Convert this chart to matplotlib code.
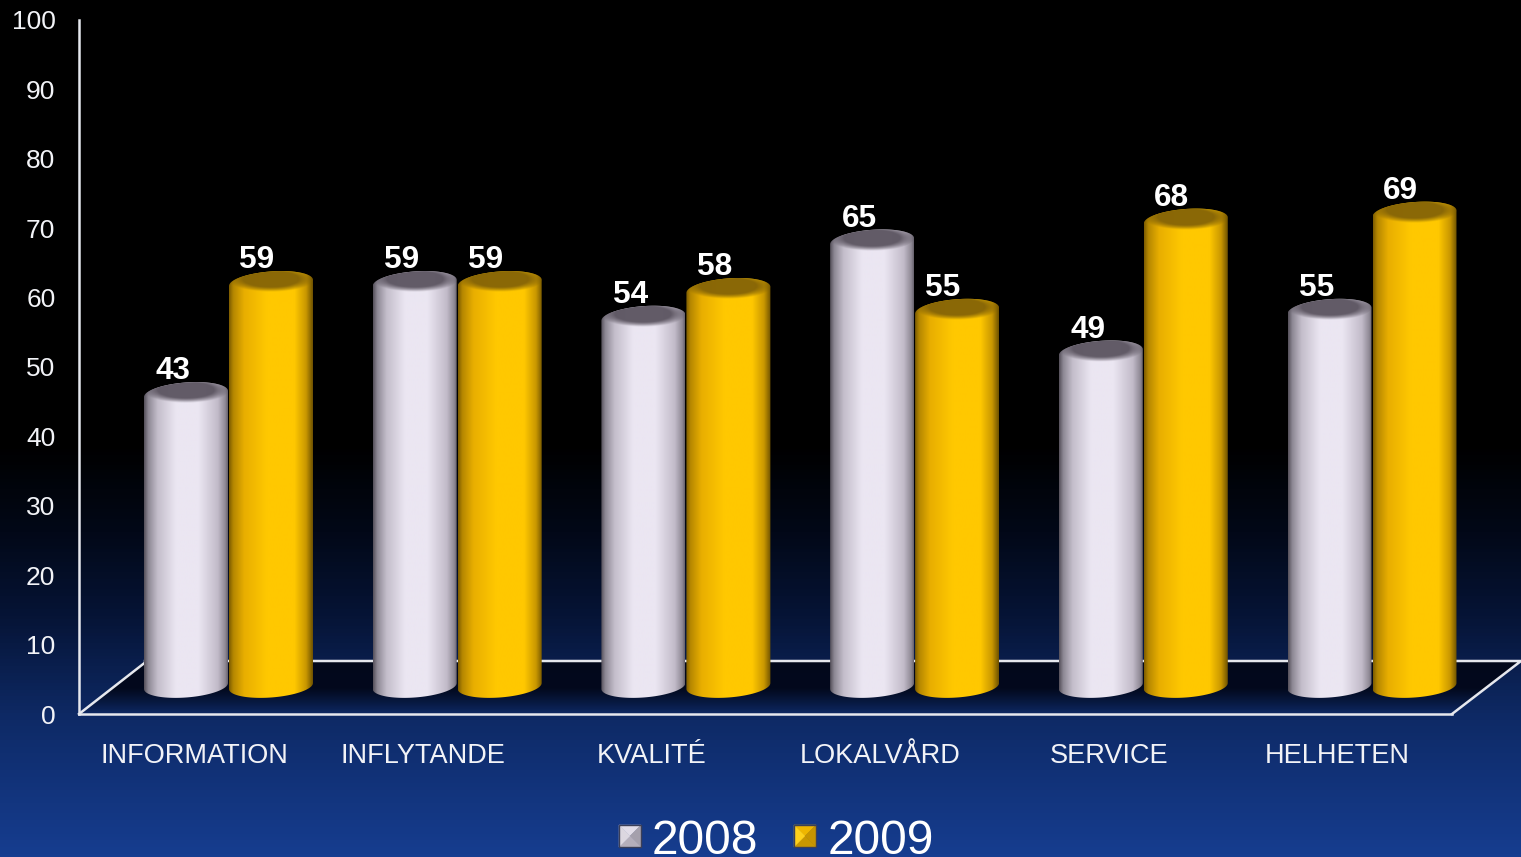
import numpy as np
import matplotlib
matplotlib.use('Agg')
import matplotlib.pyplot as plt
from matplotlib.colors import LinearSegmentedColormap
from matplotlib.patches import Polygon

plt.rcParams['font.family'] = ['Liberation Sans', 'DejaVu Sans']

categories = ['INFORMATION', 'INFLYTANDE', 'KVALITÉ', 'LOKALVÅRD', 'SERVICE', 'HELHETEN']
values_2008 = [43, 59, 54, 65, 49, 55]
values_2009 = [59, 59, 58, 55, 68, 69]
y_ticks = [0, 10, 20, 30, 40, 50, 60, 70, 80, 90, 100]

# picture geometry, in pixels
W, H = 1521, 857
GROUP_PX = 228.7
X0_PX = 194
Y0_PX = 714
UNIT_PX = 6.94


def xd(px):
    return (px - X0_PX) / GROUP_PX


def yd(px):
    return (Y0_PX - px) / UNIT_PX


WHITE_CM = LinearSegmentedColormap.from_list('white_bar', [
    (0.0, '#55505a'), (0.05, '#8d8894'), (0.16, '#c3bdca'), (0.38, '#ebe6f2'),
    (0.65, '#ebe6f2'), (0.88, '#c2bbc9'), (0.97, '#8f8995'), (1.0, '#67626d')])
GOLD_CM = LinearSegmentedColormap.from_list('gold_bar', [
    (0.0, '#7d5c00'), (0.05, '#b58700'), (0.18, '#e8ae00'), (0.45, '#ffc800'),
    (0.78, '#ffc800'), (0.92, '#c99700'), (1.0, '#6e5200')])
BG_CM = LinearSegmentedColormap.from_list('bg', [
    (0.0, '#000000'), (0.52, '#000000'), (0.62, '#020817'), (0.72, '#061436'),
    (0.84, '#0e2a66'), (1.0, '#163d90')])

fig = plt.figure(figsize=(W / 100, H / 100), dpi=100)
ax = fig.add_axes([0, 0, 1, 1])
xlim = (xd(0), xd(W))
ylim = (yd(H), yd(0))

# background, black at the top
ax.imshow(np.linspace(0, 1, 256).reshape(-1, 1), cmap=BG_CM, aspect='auto', vmin=0, vmax=1,
          extent=(*xlim, *ylim), zorder=0)

# floor of the 3d box
floor = Polygon([(xd(79), 0), (xd(145), yd(661)), (xd(1521), yd(661)), (xd(1452), 0)],
                closed=True, fc='none', ec='none', zorder=1)
ax.add_patch(floor)
shade = np.zeros((64, 1, 4))
shade[:, 0, 0:3] = (0.01, 0.03, 0.1)
shade[:, 0, 3] = np.r_[np.full(32, 0.95), np.linspace(0.95, 0.0, 32)]
im = ax.imshow(shade, aspect='auto', extent=(xlim[0], xlim[1], 0, yd(661)), zorder=1)
im.set_clip_path(floor)
ax.plot([xd(145), xd(1521), xd(1452)], [yd(661), yd(661), 0], color='#e6e8ee', lw=1.8, zorder=2)
ax.plot([xd(79), xd(147)], [0, yd(661)], color='#e6e8ee', lw=1.8, zorder=2)


def ellipse(cx, cy, a, b, tilt, t):
    return cx + a * np.cos(t), cy + b * np.sin(t) + tilt * np.cos(t)


def cylinder(cx, value, cmap, cap_rgb, z):
    a = 42 / GROUP_PX
    b = 11.5 / UNIT_PX
    tilt = 3 / UNIT_PX
    top = value + yd(692.4)
    base = yd(686)
    # outline: front half of the base, then back half of the top
    t_low = np.linspace(np.pi, 2 * np.pi, 60)
    t_up = np.linspace(0, np.pi, 60)
    bx, by = ellipse(cx, base, a, b, tilt, t_low)
    tx, ty = ellipse(cx, top, a, b, tilt, t_up)
    body = Polygon(np.column_stack([np.r_[bx, tx], np.r_[by, ty]]), closed=True,
                   fc='none', ec='none', zorder=z)
    ax.add_patch(body)
    im = ax.imshow(np.linspace(0, 1, 256).reshape(1, -1), cmap=cmap, aspect='auto', vmin=0, vmax=1,
                   extent=(cx - a, cx + a, base - 2 * b, top + 2 * b), zorder=z,
                   interpolation='bilinear')
    im.set_clip_path(body)
    # dark top face, soft towards the rim
    v, u = np.mgrid[1:-1:48j, -1:1:96j]
    grad = np.zeros((48, 96, 4))
    grad[..., 0:3] = cap_rgb
    grad[..., 3] = 0.95 * np.clip(1.7 * (1 - (u / 1.05) ** 2 - ((v - 0.25) / 0.9) ** 2), 0, 1)
    t = np.linspace(0, 2 * np.pi, 120)
    cap_x, cap_y = ellipse(cx, top, a, b, tilt, t)
    cap = Polygon(np.column_stack([cap_x, cap_y]), closed=True, fc='none', ec='none', zorder=z)
    ax.add_patch(cap)
    im2 = ax.imshow(grad, aspect='auto', extent=(cx - a, cx + a, top - b - tilt, top + b + tilt),
                    zorder=z, interpolation='bilinear')
    im2.set_clip_path(cap)


x_pos = np.arange(len(categories))
for i in x_pos:
    cx1 = i - 8 / GROUP_PX
    cx2 = i + 77 / GROUP_PX
    cylinder(cx1, values_2008[i], WHITE_CM, (0.36, 0.33, 0.38), 3)
    cylinder(cx2, values_2009[i], GOLD_CM, (0.52, 0.39, 0.03), 4)
    for cx, v, off in ((cx1, values_2008[i], 13), (cx2, values_2009[i], 14)):
        ax.text(cx - off / GROUP_PX, v + yd(692.4) + 22.5 / UNIT_PX, str(v), color='white', fontsize=22.7,
                fontweight='bold', ha='center', va='center', zorder=6)

# axes
ax.set_xlim(*xlim)
ax.set_ylim(*ylim)
ax.set_facecolor('none')
for side in ('top', 'right'):
    ax.spines[side].set_visible(False)
ax.spines['left'].set_position(('data', xd(79)))
ax.spines['left'].set_bounds(0, 100)
ax.spines['bottom'].set_position(('data', 0))
ax.spines['bottom'].set_bounds(xd(79), xd(1452))
for side in ('left', 'bottom'):
    ax.spines[side].set_color('#e6e8ee')
    ax.spines[side].set_linewidth(1.8)
    ax.spines[side].set_zorder(5)
ax.set_yticks(y_ticks)
ax.set_xticks(x_pos, categories)
ax.tick_params(axis='y', length=0, pad=17, labelsize=19, labelcolor='#f2f3f7')
ax.tick_params(axis='x', length=0, pad=21, labelsize=19.5, labelcolor='#f2f3f7')


def legend_square(px, py, s, colors):
    x = [xd(px), xd(px + s)]
    y = [yd(py), yd(py + s)]
    mx, my = xd(px + s / 2), yd(py + s / 2)
    corners = [(x[0], y[0]), (x[1], y[0]), (x[1], y[1]), (x[0], y[1])]
    for k, c in enumerate(colors):
        ax.add_patch(Polygon([corners[k], corners[(k + 1) % 4], (mx, my)], closed=True, fc=c, ec=c,
                             lw=0.3, zorder=6))
    ax.add_patch(Polygon(corners, closed=True, fc='none', ec='#3b3f58', lw=1, zorder=7))


legend_labels = ['2008', '2009']
legend_square(619, 825, 22, ['#e2dde8', '#a5a0ac', '#b5afbb', '#dcd7e0'])
legend_square(794, 825, 22, ['#efb600', '#c79400', '#c99700', '#ffd01a'])
ax.text(xd(652), yd(854), legend_labels[0], color='white', fontsize=34.5, ha='left', va='baseline', zorder=6)
ax.text(xd(828), yd(854), legend_labels[1], color='white', fontsize=34.5, ha='left', va='baseline', zorder=6)

fig.savefig('out.png', dpi=100)
